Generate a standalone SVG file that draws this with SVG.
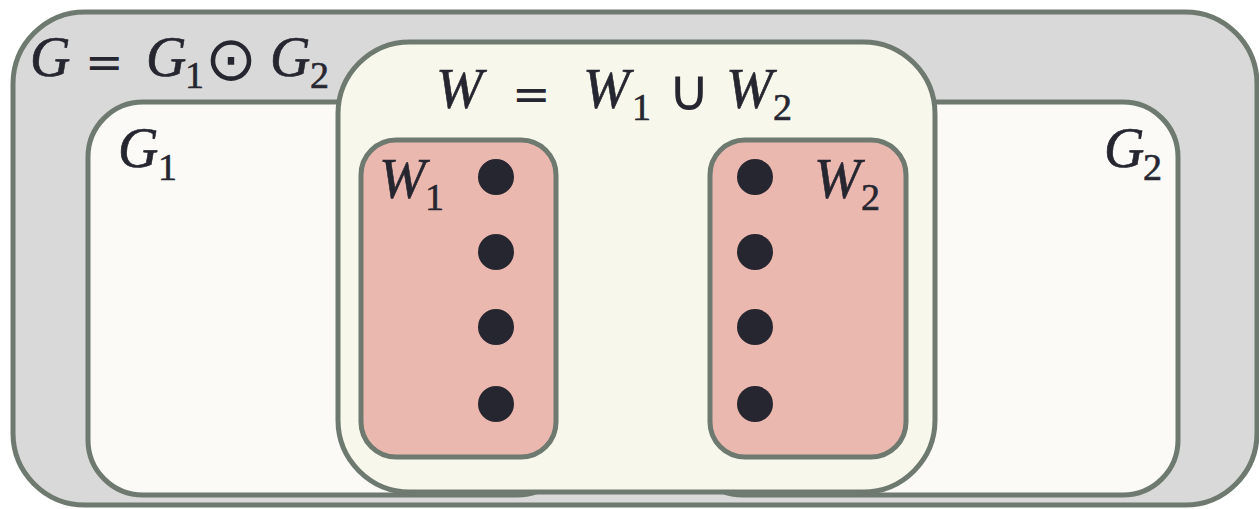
<svg xmlns="http://www.w3.org/2000/svg" width="1259" height="509" viewBox="0 0 1259 509">
  <style>
    .box { stroke: #6e7a70; stroke-width: 5; }
    .outer { fill: #d9d9d9; }
    .graph { fill: #fbfaf6; }
    .wbox { fill: #f8f7eb; }
    .wsub { fill: #ebb8b0; }
    .dot { fill: #262630; }
    .m { font-family: "Liberation Serif", "DejaVu Serif", serif; font-style: italic; font-size: 56px; fill: #262630; stroke: #262630; stroke-width: 0.6; }
    .sub { font-style: normal; font-size: 38px; }
    .sym { font-family: "DejaVu Sans", sans-serif; font-style: normal; stroke-width: 0; }
  </style>
  <g id="G">
    <rect class="box outer" x="13" y="12" width="1244" height="493" rx="72" ry="72"/>
    <text class="m"><tspan x="30" y="76">G</tspan><tspan class="sym" x="85" y="78" font-size="46">=</tspan><tspan x="146" y="76">G</tspan><tspan class="sub" x="185" y="88">1</tspan><tspan class="sym" x="205" y="80" font-size="62">⊙</tspan><tspan x="270" y="76">G</tspan><tspan class="sub" x="310" y="88">2</tspan></text>
  </g>
  <g id="G1">
    <rect class="box graph" x="88" y="102" width="484" height="393" rx="55" ry="55"/>
    <text class="m"><tspan x="118" y="167">G</tspan><tspan class="sub" x="158" y="180">1</tspan></text>
  </g>
  <g id="G2">
    <rect class="box graph" x="688" y="102" width="490" height="393" rx="55" ry="55"/>
    <text class="m"><tspan x="1104" y="167">G</tspan><tspan class="sub" x="1143" y="180">2</tspan></text>
  </g>
  <g id="W">
    <rect class="box wbox" x="338" y="42" width="597" height="450" rx="72" ry="72"/>
    <text class="m"><tspan x="436" y="108">W</tspan><tspan class="sym" x="512" y="110" font-size="46">=</tspan><tspan x="583" y="108">W</tspan><tspan class="sub" x="632" y="120">1</tspan><tspan class="sym" x="668" y="110" font-size="58">∪</tspan><tspan x="726" y="108">W</tspan><tspan class="sub" x="773" y="120">2</tspan></text>
  </g>
  <g id="W1">
    <rect class="box wsub" x="361" y="140" width="195" height="317" rx="35" ry="35"/>
    <text class="m"><tspan x="379" y="198">W</tspan><tspan class="sub" x="425" y="210">1</tspan></text>
    <circle class="dot" cx="496" cy="177" r="18"/>
    <circle class="dot" cx="496" cy="252" r="18"/>
    <circle class="dot" cx="496" cy="327" r="18"/>
    <circle class="dot" cx="496" cy="404" r="18"/>
  </g>
  <g id="W2">
    <rect class="box wsub" x="710" y="140" width="196" height="317" rx="35" ry="35"/>
    <text class="m"><tspan x="814" y="198">W</tspan><tspan class="sub" x="861" y="210">2</tspan></text>
    <circle class="dot" cx="755" cy="177" r="18"/>
    <circle class="dot" cx="755" cy="252" r="18"/>
    <circle class="dot" cx="755" cy="327" r="18"/>
    <circle class="dot" cx="755" cy="404" r="18"/>
  </g>
  <g id="connectors"/>
</svg>
